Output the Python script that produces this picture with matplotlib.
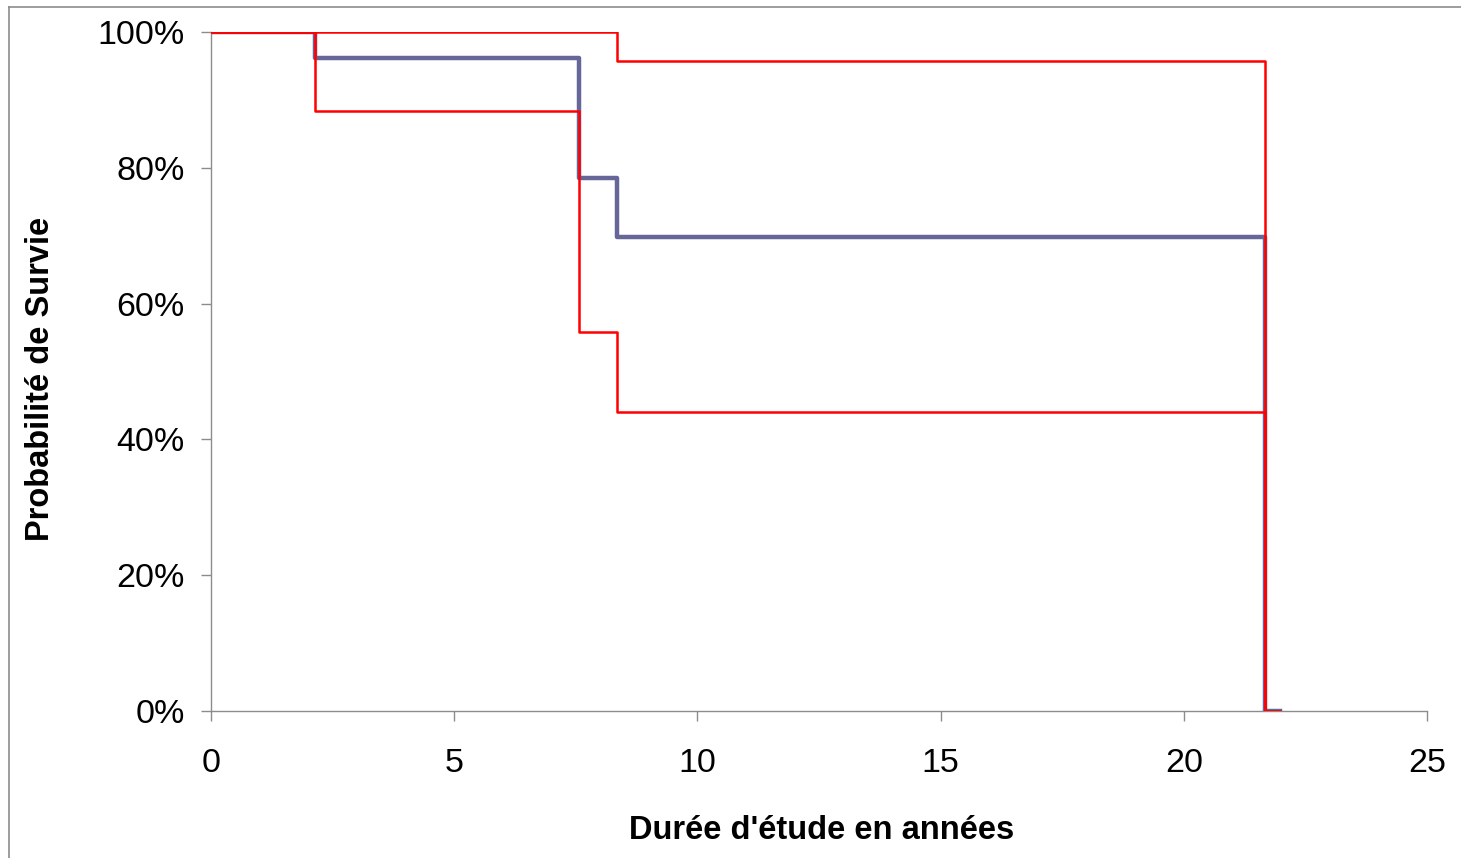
import matplotlib
matplotlib.use('Agg')
import matplotlib.pyplot as plt
from matplotlib.ticker import PercentFormatter
from matplotlib.lines import Line2D

plt.rcParams['font.family'] = ['Liberation Sans', 'DejaVu Sans']

# Kaplan-Meier estimate and confidence bounds (years, % survival)
km_t = [0, 2.14, 7.57, 8.35, 21.67, 21.98]
km_s = [100, 96.2, 78.5, 69.8, 0, 0]

upper_t = [0, 8.35, 21.67, 21.98]
upper_s = [100, 95.8, 0, 0]

lower_t = [0, 2.14, 7.57, 8.35, 21.67, 21.98]
lower_s = [100, 88.3, 55.8, 44.0, 0, 0]

xticks = [0, 5, 10, 15, 20, 25]
yticks = [0, 20, 40, 60, 80, 100]

fig = plt.figure(figsize=(14.61, 8.58), dpi=100)
ax = fig.add_axes([211 / 1461, 1 - 711 / 858, (1427 - 211) / 1461, (711 - 32) / 858])

ax.step(km_t, km_s, where='post', color='#666699', lw=3.2, zorder=2)
ax.step(upper_t, upper_s, where='post', color='#ff0000', lw=1.8, zorder=3)
ax.step(lower_t, lower_s, where='post', color='#ff0000', lw=1.8, zorder=3)

ax.set_xlim(0, 25)
ax.set_ylim(0, 100)
ax.set_xticks(xticks)
ax.set_yticks(yticks)
ax.yaxis.set_major_formatter(PercentFormatter(decimals=0))

for s in ['top', 'right']:
    ax.spines[s].set_visible(False)
for s in ['left', 'bottom']:
    ax.spines[s].set_color('#8c8c8c')
    ax.spines[s].set_linewidth(1.0)
ax.tick_params(direction='out', length=7, width=1.0, color='#8c8c8c',
               labelsize=24.5)
ax.tick_params(axis='y', pad=12)
ax.tick_params(axis='x', pad=20)

ax.set_xlabel("Durée d'étude en années", fontsize=23.5, fontweight='bold')
ax.set_ylabel('Probabilité de Survie', fontsize=23.5, fontweight='bold')
ax.xaxis.set_label_coords(0.5025, -0.153)
ax.yaxis.set_label_coords(-0.1274, 0.489)

# outer chart border (left and top visible)
fig.add_artist(Line2D([9 / 1461, 9 / 1461], [0, 1 - 7 / 858], color='#8c8c8c', lw=1.2,
                      transform=fig.transFigure))
fig.add_artist(Line2D([9 / 1461, 1], [1 - 7 / 858, 1 - 7 / 858], color='#8c8c8c', lw=1.2,
                      transform=fig.transFigure))

fig.savefig('out.png', dpi=100)
